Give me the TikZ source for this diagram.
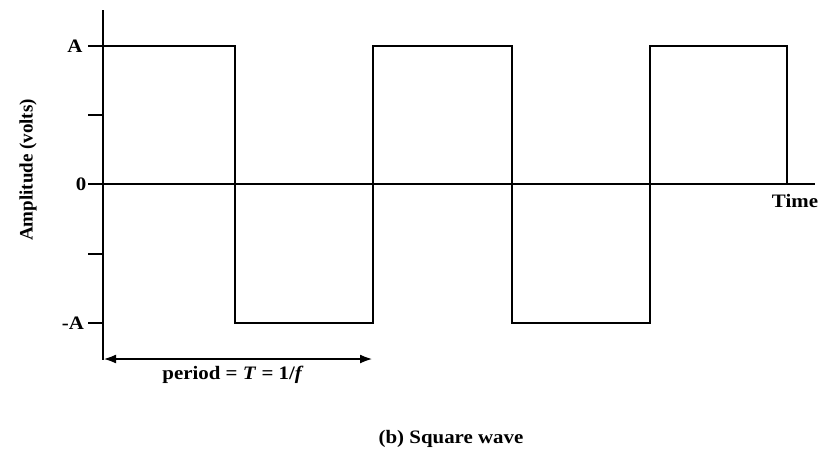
\documentclass[tikz,border=0pt]{standalone}
\usepackage{fontspec}
\setmainfont{Liberation Serif}
\usetikzlibrary{arrows.meta}
\begin{document}
\begin{tikzpicture}[x=1pt,y=-1pt,
  ax/.style={line width=2.7pt},
  wave/.style={line width=2.7pt,line join=miter},
  lbl/.style={font=\fontsize{19}{21}\selectfont\bfseries,inner sep=0pt},
  dim/.style={line width=2.5pt,{Latex[length=13pt,width=9pt]}-{Latex[length=13pt,width=9pt]}}]
\useasboundingbox (0,0) rectangle (827,451);
% axes
\coordinate (ytop) at (103,10);
\coordinate (ybot) at (103,360);
\coordinate (zl) at (88,184);
\coordinate (zr) at (815,184);
\draw[ax] (ytop) -- (ybot);
\draw[ax] (zl) -- (zr);
% ticks
\foreach \yy in {46,115,254,323} \draw[ax] (88,\yy) -- (103,\yy);
% wave
\draw[wave] (88,46) -- (235,46) -- (235,323) -- (373,323) -- (373,46) -- (512,46) -- (512,323) -- (650,323) -- (650,46) -- (787,46) -- (787,184);
% labels
\node[lbl] (la) at (75,46) {\scalebox{1.1}[1]{A}};
\node[lbl] (l0) at (81,184) {\scalebox{1.1}[1]{0}};
\node[lbl] (lma) at (73,323) {\scalebox{1.1}[1]{-A}};
\node[lbl] (time) at (795,201) {\scalebox{1.1}[1]{Time}};
\node[lbl,rotate=90] (amp) at (28,170) {Amplitude (volts)};
% period arrow
\coordinate (pa) at (103,359);
\coordinate (pb) at (373,359);
\draw[dim] (pa) -- (pb);
\node[lbl] (per) at (233,375) {\scalebox{1.1}[1]{period = \textit{T} = 1/\textit{f}}};
\node[lbl] (cap) at (451,439) {\scalebox{1.1}[1]{(b) Square wave}};
\end{tikzpicture}
\end{document}
